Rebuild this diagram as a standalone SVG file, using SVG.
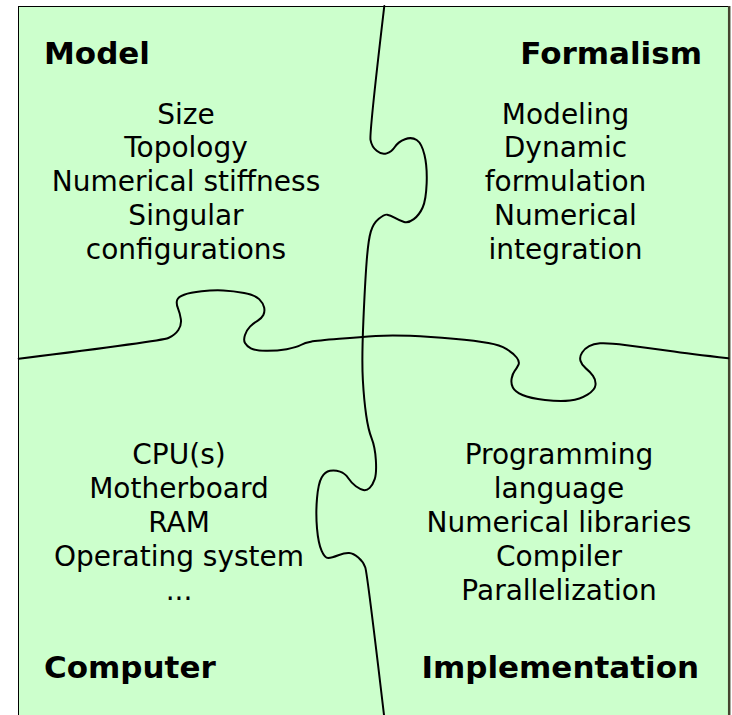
<svg xmlns="http://www.w3.org/2000/svg" width="732" height="715" viewBox="0 0 732 715">
  <style>
    .board { fill: #CCFFCC; stroke: #000; stroke-width: 1; }
    .cut { fill: none; stroke: #000; stroke-width: 2; stroke-linejoin: round; stroke-linecap: round; }
    .head { font-family: "DejaVu Sans", Verdana, sans-serif; font-weight: bold; font-size: 31px; fill: #000; }
    .item { font-family: "DejaVu Sans", Verdana, sans-serif; font-size: 28px; fill: #000; text-anchor: middle; }
  </style>

  <rect width="732" height="715" fill="#fff"/>
  <!-- puzzle board -->
  <rect class="board" x="18.5" y="6.5" width="710" height="720"/>
  <line x1="729.2" y1="6" x2="729.2" y2="715" stroke="#44442e" stroke-width="2.5"/>

  <!-- cut lines between the four pieces -->
  <g id="cuts">
    <path class="cut" d="M384.3,6 Q369.3,133 370.5,139.85 Q371.7,146.7 376.7,150.85 Q381.7,155 386.7,153.35 Q391.7,151.7 395,146.7 Q398.3,141.7 405,139.2 Q411.7,136.7 416.7,140 Q421.7,143.3 424.5,155 Q427.3,166.7 426.65,183.35 Q426,200 422.65,207.5 Q419.3,215 413.8,219.15 Q408.3,223.3 404.15,222 Q400,220.7 395,217.85 Q390,215 387.15,214.65 Q384.3,214.3 378.8,218.8 Q373.3,223.3 370.8,231.65 Q368.3,240 366.65,261.5 Q365,283 363.35,321.5 Q361.7,360 362.85,380 Q364,400 366.15,415 Q368.3,430 371.65,438.35 Q375,446.7 375.85,460 Q376.7,473.3 374.7,479.15 Q372.7,485 369.7,487.85 Q366.7,490.7 363.35,490 Q360,489.3 355.85,486.3 Q351.7,483.3 348.35,478.3 Q345,473.3 340,471.65 Q335,470 330,470.85 Q325,471.7 321.65,477.5 Q318.3,483.3 317,498.3 Q315.7,513.3 317,528.3 Q318.3,543.3 321.65,550.8 Q325,558.3 328.35,558 Q331.7,557.7 338.35,555.2 Q345,552.7 349.15,553 Q353.3,553.3 358.3,557.5 Q363.3,561.7 365.3,567.5 Q367.3,573.3 384,715"/>
    <path class="cut" d="M18.7,358.7 Q161.7,341 168.35,338 Q175,335 178.35,330 Q181.7,325 180.85,319.15 Q180,313.3 178,308.3 Q176,303.3 177.15,300 Q178.3,296.7 184.15,294.7 Q190,292.7 201.65,291.35 Q213.3,290 223.3,290.5 Q233.3,291 244.15,293 Q255,295 259.15,299.15 Q263.3,303.3 264.15,307.5 Q265,311.7 263.35,315 Q261.7,318.3 257.5,320.8 Q253.3,323.3 250,326.65 Q246.7,330 245,335 Q243.3,340 245,343 Q246.7,346 250.85,348.35 Q255,350.7 265.85,350.85 Q276.7,351 286.7,349.15 Q296.7,347.3 300.85,345 Q305,342.7 310.85,341.7 Q316.7,340.7 339.2,338.85 Q361.7,337 375.85,336 Q390,335 410,335.85 Q430,336.7 453.35,338.85 Q476.7,341 488.35,343 Q500,345 506.65,349.15 Q513.3,353.3 516.65,357.5 Q520,361.7 518.35,365 Q516.7,368.3 514.7,370.8 Q512.7,373.3 511.7,378.3 Q510.7,383.3 512.85,387.5 Q515,391.7 522.5,395 Q530,398.3 545,400 Q560,401.7 570,400.5 Q580,399.3 587.5,394.65 Q595,390 595.5,385 Q596,380 593,375.85 Q590,371.7 585.85,368.35 Q581.7,365 580.5,360.85 Q579.3,356.7 582.15,352.5 Q585,348.3 589.15,346.15 Q593.3,344 600,343.35 Q606.7,342.7 626.7,345.2 Q646.7,347.7 668.35,350.85 Q690,354 728.3,358.3"/>
  </g>

  <!-- top-left piece -->
  <g id="model">
    <text class="head" x="44" y="64">Model</text>
    <text class="item" x="186" y="123.5">Size</text>
    <text class="item" x="186" y="157.25">Topology</text>
    <text class="item" x="186" y="191">Numerical stiffness</text>
    <text class="item" x="186" y="224.75">Singular</text>
    <text class="item" x="186" y="258.5">configurations</text>
  </g>

  <!-- top-right piece -->
  <g id="formalism">
    <text class="head" x="702" y="64" text-anchor="end">Formalism</text>
    <text class="item" x="565.5" y="123.5">Modeling</text>
    <text class="item" x="565.5" y="157.25">Dynamic</text>
    <text class="item" x="565.5" y="191">formulation</text>
    <text class="item" x="565.5" y="224.75">Numerical</text>
    <text class="item" x="565.5" y="258.5">integration</text>
  </g>

  <!-- bottom-left piece -->
  <g id="computer">
    <text class="item" x="179" y="463.5">CPU(s)</text>
    <text class="item" x="179" y="497.5">Motherboard</text>
    <text class="item" x="179" y="531.5">RAM</text>
    <text class="item" x="179" y="565.5">Operating system</text>
    <text class="item" x="179" y="599.5">...</text>
    <text class="head" x="44" y="678">Computer</text>
  </g>

  <!-- bottom-right piece -->
  <g id="implementation">
    <text class="item" x="559" y="463.5">Programming</text>
    <text class="item" x="559" y="497.5">language</text>
    <text class="item" x="559" y="531.5">Numerical libraries</text>
    <text class="item" x="559" y="565.5">Compiler</text>
    <text class="item" x="559" y="599.5">Parallelization</text>
    <text class="head" x="699" y="678" text-anchor="end">Implementation</text>
  </g>
</svg>
